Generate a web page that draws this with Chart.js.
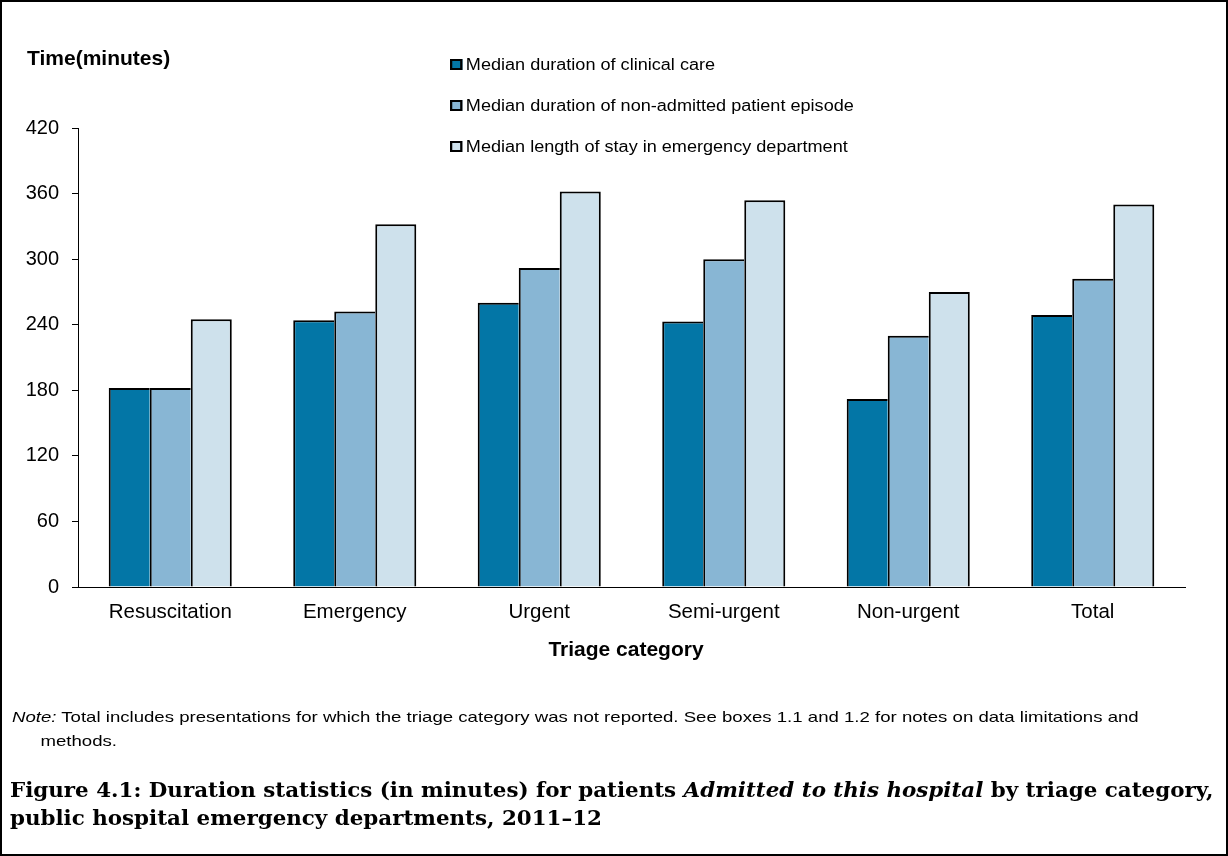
<!DOCTYPE html>
<html>
<head>
<meta charset="utf-8">
<script src="https://cdn.jsdelivr.net/npm/chart.js@4.4.1/dist/chart.umd.min.js"></script>
<style>
  body { margin: 0; background: #fff; }
  #wrap { position: relative; width: 1228px; height: 856px; overflow: hidden; font-family: "Liberation Sans", Arial, sans-serif; color: #000; }
  #chart { position: absolute; left: 0; top: 0; }
  #frame { position: absolute; left: 0; top: 0; width: 1228px; height: 856px; box-sizing: border-box; border: 2px solid #000; pointer-events: none; }
  #ytitle { position: absolute; left: 27px; top: 45px; font-weight: bold; font-size: 21px; line-height: 26px; }
  #xtitle { position: absolute; left: 0; width: 1252px; text-align: center; top: 636px; font-weight: bold; font-size: 21px; line-height: 26px; }
  #legend { position: absolute; left: 450px; top: 52px; font-size: 16px; transform: scaleX(1.13); transform-origin: 0 0; }
  .item { height: 41px; line-height: 26px; white-space: nowrap; }
  .box { display: inline-block; width: 7px; height: 7px; border: 2px solid #000; margin-right: 3px; vertical-align: 0px; }
  #note { position: absolute; left: 12px; top: 705px; font-size: 15px; line-height: 24px; white-space: nowrap; transform: scaleX(1.24); transform-origin: 0 0; }
  #note .cont { padding-left: 23px; }
  #caption { position: absolute; left: 10px; top: 776px; font-family: "DejaVu Serif", "Liberation Serif", serif; font-weight: bold; font-size: 20px; line-height: 28px; white-space: nowrap; transform: scaleX(1.07); transform-origin: 0 0; }
</style>
</head>
<body>
<div id="wrap">
  <canvas id="chart" width="1228" height="856"></canvas>
  <div id="ytitle">Time(minutes)</div>
  <div id="legend"></div>
  <div id="xtitle">Triage category</div>
  <div id="note"><i>Note:</i> Total includes presentations for which the triage category was not reported. See boxes 1.1 and 1.2 for notes on data limitations and<br><span class="cont">methods.</span></div>
  <div id="caption">Figure 4.1: Duration statistics (in minutes) for patients <i>Admitted to this hospital</i> by triage category,<br>public hospital emergency departments, 2011–12</div>
  <div id="frame"></div>
</div>
<script>
const categories = ['Resuscitation', 'Emergency', 'Urgent', 'Semi-urgent', 'Non-urgent', 'Total'];
const seriesNames = [
    'Median duration of clinical care',
    'Median duration of non-admitted patient episode',
    'Median length of stay in emergency department'
];
const clinicalCare = [182, 244, 260, 243, 172, 249];
const nonAdmitted = [182, 252, 292, 300, 230, 282];
const lengthOfStay = [245, 332, 362, 354, 270, 350];
const yTicks = [0, 60, 120, 180, 240, 300, 360, 420];

const colors = ['#0376a6', '#88b6d4', '#cee1ec'];
const values = [clinicalCare, nonAdmitted, lengthOfStay];

// legend as html, stacked vertically like the original
const legend = document.getElementById('legend');
seriesNames.forEach((name, i) => {
    const row = document.createElement('div');
    row.className = 'item';
    row.innerHTML = `<span class="box" style="background:${colors[i]}"></span>${name}`;
    legend.appendChild(row);
});

const ctx = document.getElementById('chart').getContext('2d');
new Chart(ctx, {
    type: 'bar',
    data: {
        labels: categories,
        datasets: values.map((v, i) => ({
            label: seriesNames[i],
            data: v,
            backgroundColor: colors[i],
            borderColor: '#000',
            // bars touch, so only the last one gets a right edge
            borderWidth: i === 2 ? { left: 2, top: 2, right: 2, bottom: 0 } : { left: 2, top: 2, right: 0, bottom: 0 },
            borderSkipped: false,
            categoryPercentage: 0.667,
            barPercentage: 1
        }))
    },
    options: {
        responsive: false,
        animation: false,
        layout: { padding: { left: 8, right: 43, top: 128, bottom: 229 } },
        plugins: {
            legend: { display: false },
            tooltip: { enabled: false }
        },
        scales: {
            x: {
                grid: { display: false, drawTicks: false },
                border: { color: '#000', width: 1 },
                ticks: {
                    color: '#000',
                    padding: 13,
                    font: { family: '"Liberation Sans", Arial, sans-serif', size: 20.5 }
                },
                afterFit: (s) => { s.height = 40; }
            },
            y: {
                min: 0,
                max: 420,
                afterBuildTicks: (s) => { s.ticks = yTicks.map(v => ({ value: v })); },
                grid: { drawOnChartArea: false, drawTicks: true, tickLength: 6, color: '#000' },
                border: { color: '#000', width: 1 },
                ticks: {
                    color: '#000',
                    padding: 13,
                    font: { family: '"Liberation Sans", Arial, sans-serif', size: 20 }
                },
                afterFit: (s) => { s.width = 70; }
            }
        }
    }
});
</script>
</body>
</html>
